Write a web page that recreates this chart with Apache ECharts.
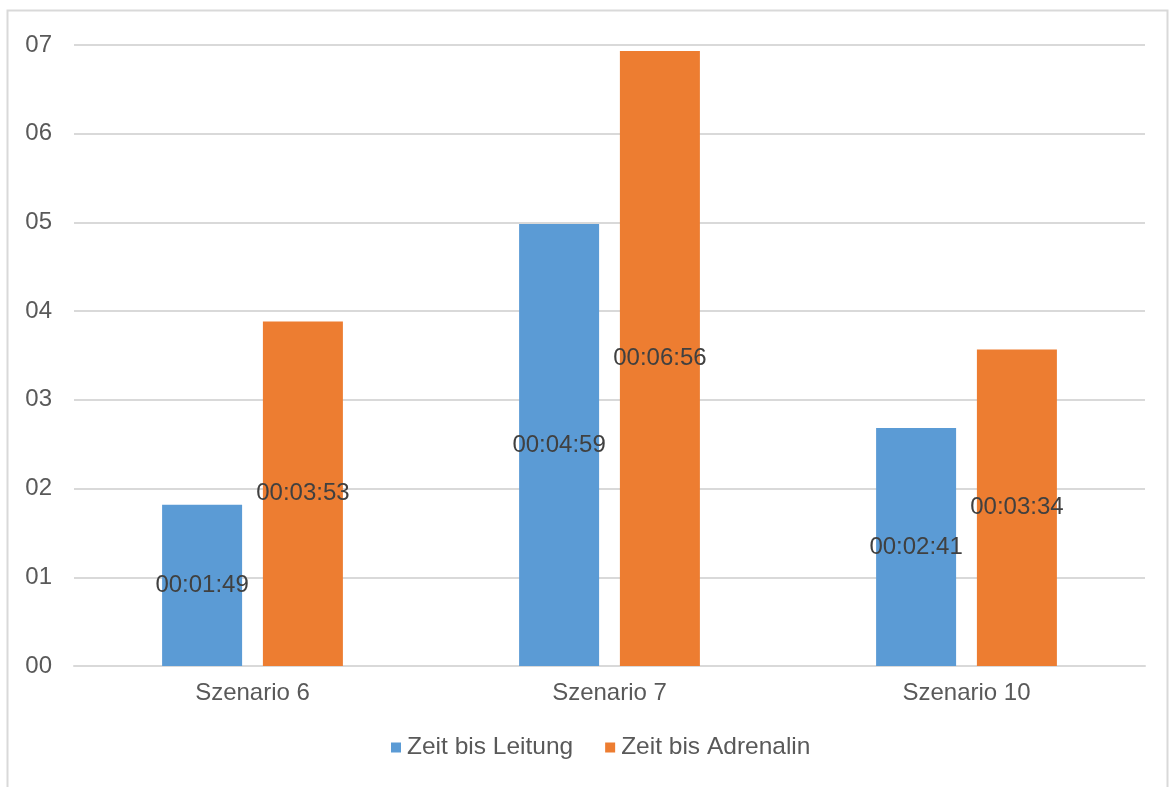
<!DOCTYPE html>
<html>
<head>
<meta charset="utf-8">
<style>
  html, body { margin: 0; padding: 0; background: #ffffff; }
  #chart { width: 1169px; height: 787px; }
</style>
<script src="https://cdn.jsdelivr.net/npm/echarts@6/dist/echarts.min.js"></script>
</head>
<body>
<div id="chart"></div>
<script>
// Times in seconds per scenario
const categories = ['Szenario 6', 'Szenario 7', 'Szenario 10'];
const seriesNames = ['Zeit bis Leitung', 'Zeit bis Adrenalin'];
const zeitBisLeitung = [109, 299, 161];     // 00:01:49, 00:04:59, 00:02:41
const zeitBisAdrenalin = [233, 416, 214];   // 00:03:53, 00:06:56, 00:03:34
const colors = ['#5b9bd5', '#ed7d31'];

const pad = n => String(n).padStart(2, '0');
function hms(sec) {
  const h = Math.floor(sec / 3600);
  const m = Math.floor((sec % 3600) / 60);
  const s = Math.round(sec % 60);
  return pad(h) + ':' + pad(m) + ':' + pad(s);
}

const font = '"Liberation Sans", Arial, sans-serif';
const chart = echarts.init(document.getElementById('chart'), null, { renderer: 'canvas' });

const makeSeries = (name, data, color) => ({
  name: name,
  type: 'bar',
  data: data,
  barWidth: 80,
  barGap: '26%',
  itemStyle: { color: color },
  label: {
    show: true,
    position: 'inside',
    formatter: p => hms(p.value),
    color: '#404040',
    fontFamily: font,
    fontSize: 24
  }
});

chart.setOption({
  animation: false,
  backgroundColor: '#ffffff',
  graphic: [{
    type: 'rect',
    shape: { x: 7.5, y: 10.5, width: 1160, height: 790 },
    style: { fill: 'none', stroke: '#d9d9d9', lineWidth: 2 },
    silent: true
  }],
  grid: { left: 74, right: 24, top: 45, bottom: 121 },
  legend: {
    data: seriesNames,
    bottom: 22,
    left: 386,
    padding: 5,
    itemWidth: 10,
    itemHeight: 10,
    itemGap: 32,
    icon: 'rect',
    textStyle: { color: '#595959', fontFamily: font, fontSize: 24.5, padding: [0, 0, 0, 1] }
  },
  xAxis: {
    type: 'category',
    data: categories,
    axisLine: { lineStyle: { color: '#d9d9d9', width: 2 } },
    axisTick: { show: false },
    axisLabel: { color: '#595959', fontFamily: font, fontSize: 24, margin: 15 }
  },
  yAxis: {
    type: 'value',
    min: 0,
    max: 420,
    interval: 60,
    axisLine: { show: false },
    axisTick: { show: false },
    splitLine: { lineStyle: { color: '#d9d9d9', width: 2 } },
    axisLabel: {
      color: '#595959', fontFamily: font, fontSize: 24, margin: 22,
      formatter: v => pad(Math.round(v / 60))
    }
  },
  series: [
    makeSeries(seriesNames[0], zeitBisLeitung, colors[0]),
    makeSeries(seriesNames[1], zeitBisAdrenalin, colors[1])
  ]
});
</script>
</body>
</html>
